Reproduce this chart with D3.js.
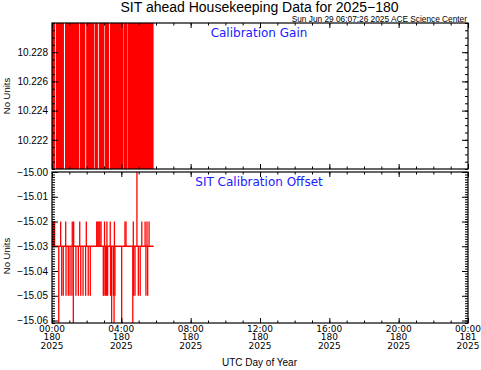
<!DOCTYPE html>
<html>
<head>
<meta charset="utf-8">
<script src="https://cdn.jsdelivr.net/npm/d3@7"></script>
<style>
  body { margin: 0; background: #fff; }
  svg { display: block; font-family: "Liberation Sans", "DejaVu Sans", sans-serif; }
</style>
</head>
<body>
<svg id="chart" width="481" height="370"></svg>
<script>
// ---- data (hours of day 180, 2025) ----
const gainStart = [0.00, 0.22, 0.75, 1.60, 1.97, 2.46, 2.70, 3.04, 3.34, 4.12, 4.35];
const gainEnd   = [0.17, 0.69, 1.56, 1.92, 2.43, 2.65, 3.01, 3.29, 4.10, 4.33, 5.86];
// gain readings flip between these two levels inside each run (both off scale)
const gainLow  = 10.2195;
const gainHigh = 10.2305;

const offsetBase = -15.03;
const offsetStart = 0.0, offsetEnd = 5.87;
const spikeHours = [0.00, 0.05, 0.10, 0.15, 0.39, 0.50, 0.56, 0.65, 0.79, 0.81, 0.94, 1.04,
  1.15, 1.17, 1.23, 1.25, 1.38, 1.52, 1.60, 1.66, 1.79, 1.94, 1.98, 2.09, 2.21,
  2.58, 2.64, 2.70, 2.76, 2.83, 2.96, 3.00, 3.03, 3.08, 3.14, 3.17, 3.21, 3.36, 3.38, 3.44,
  3.54, 3.58, 3.60, 3.63, 4.02, 4.21, 4.27, 4.66, 4.69, 4.71, 4.79, 4.90, 4.98, 5.09,
  5.18, 5.37, 5.42, 5.48, 5.52, 5.60];
const spikeValues = [-15.02, -15.02, -15.02, -15.02, -15.07, -15.02, -15.05, -15.05, -15.02, -15.05, -15.05, -15.05,
  -15.05, -15.02, -15.07, -15.02, -15.05, -15.05, -15.02, -15.05, -15.05, -15.05, -15.02, -15.05, -15.05,
  -15.02, -15.02, -15.02, -15.02, -15.02, -15.05, -15.05, -15.02, -15.05, -15.05, -15.02, -15.05, -15.02, -15.05, -15.07,
  -15.05, -15.07, -15.02, -15.05, -15.07, -15.02, -15.02, -15.07, -15.02, -15.05, -15.05, -15.00, -15.05, -15.05,
  -15.02, -15.02, -15.05, -15.02, -15.05, -15.02];

const gainTicks = [10.222, 10.224, 10.226, 10.228];
const offsetTicks = [-15.06, -15.05, -15.04, -15.03, -15.02, -15.01, -15.00];
const hourTicks = [0, 4, 8, 12, 16, 20, 24];
const hourLabels = ["00:00", "04:00", "08:00", "12:00", "16:00", "20:00", "00:00"];
const dayLabels = ["180", "180", "180", "180", "180", "180", "181"];
const yearLabels = ["2025", "2025", "2025", "2025", "2025", "2025", "2025"];

const svg = d3.select("#chart");
const left = 52, right = 468;
const panels = [
  { top: 23, bottom: 169, domain: [10.220, 10.230], ticks: gainTicks, minor: 0.0005, fmt: d3.format(".3f"),
    title: "Calibration Gain", titleY: 37, labelY: 96 },
  { top: 172, bottom: 323, domain: [-15.061, -15.000], ticks: offsetTicks, minor: 0.001, fmt: d3.format(".2f"),
    title: "SIT Calibration Offset", titleY: 186, labelY: 256 }
];

const x = d3.scaleLinear().domain([0, 24]).range([left, right]);
const minorHours = d3.range(0, 25);

panels.forEach((p, i) => {
  p.y = d3.scaleLinear().domain(p.domain).range([p.bottom, p.top]);
  const n = Math.round((p.domain[1] - p.domain[0]) / p.minor);
  const lo = Math.ceil(p.domain[0] / p.minor - 1e-6);
  p.minorTicks = d3.range(lo, lo + n + 1).map(k => +(k * p.minor).toFixed(5))
    .filter(v => v >= p.domain[0] - 1e-9 && v <= p.domain[1] + 1e-9);

  svg.append("defs").append("clipPath").attr("id", "clip" + i)
    .append("rect").attr("x", left).attr("y", p.top).attr("width", right - left).attr("height", p.bottom - p.top);
});

// gain runs
const g0 = svg.append("g").attr("clip-path", "url(#clip0)");
g0.selectAll("rect").data(gainStart).join("rect")
  .attr("x", (d) => x(d))
  .attr("width", (d, i) => x(gainEnd[i]) - x(d))
  .attr("y", panels[0].y(gainHigh))
  .attr("height", panels[0].y(gainLow) - panels[0].y(gainHigh))
  .attr("fill", "#ff0000");

// offset baseline + spikes
const g1 = svg.append("g").attr("clip-path", "url(#clip1)");
const y1 = panels[1].y;
g1.append("line")
  .attr("x1", x(offsetStart)).attr("x2", x(offsetEnd))
  .attr("y1", y1(offsetBase)).attr("y2", y1(offsetBase))
  .attr("stroke", "#ff0000").attr("stroke-width", 1.3);
g1.selectAll("line.spike").data(spikeHours).join("line")
  .attr("class", "spike")
  .attr("x1", d => x(d)).attr("x2", d => x(d))
  .attr("y1", y1(offsetBase)).attr("y2", (d, i) => y1(spikeValues[i]))
  .attr("stroke", "#ff0000").attr("stroke-width", 1.3);

// axes
panels.forEach((p, i) => {
  const ax = svg.append("g").attr("class", "axes");
  // frame
  ax.append("rect").attr("x", left).attr("y", p.top).attr("width", right - left).attr("height", p.bottom - p.top)
    .attr("fill", "none").attr("stroke", "#000").attr("stroke-width", 1.2);

  const addAxis = (gen, tx, ty) => {
    const a = ax.append("g").attr("transform", `translate(${tx},${ty})`).call(gen);
    a.select(".domain").remove();
    a.selectAll("line").attr("stroke", "#000");
    return a;
  };
  // x ticks top and bottom, pointing inward
  addAxis(d3.axisBottom(x).tickValues(minorHours).tickSize(2.5).tickFormat(""), 0, p.top);
  addAxis(d3.axisBottom(x).tickValues(hourTicks).tickSize(5).tickFormat(""), 0, p.top);
  addAxis(d3.axisTop(x).tickValues(minorHours).tickSize(2.5).tickFormat(""), 0, p.bottom);
  addAxis(d3.axisTop(x).tickValues(hourTicks).tickSize(5).tickFormat(""), 0, p.bottom);
  // y ticks left and right, pointing inward
  addAxis(d3.axisRight(p.y).tickValues(p.minorTicks).tickSize(3).tickFormat(""), left, 0);
  addAxis(d3.axisRight(p.y).tickValues(p.ticks).tickSize(6).tickFormat(""), left, 0);
  addAxis(d3.axisLeft(p.y).tickValues(p.minorTicks).tickSize(3).tickFormat(""), right, 0);
  addAxis(d3.axisLeft(p.y).tickValues(p.ticks).tickSize(6).tickFormat(""), right, 0);
  // y labels
  const lab = addAxis(d3.axisLeft(p.y).tickValues(p.ticks).tickSize(0).tickPadding(4).tickFormat(p.fmt), left, 0);
  lab.selectAll("text").attr("font-size", 10).attr("font-family", "Liberation Sans, sans-serif").attr("fill", "#000");

  svg.append("text").attr("x", 259).attr("y", p.titleY).attr("text-anchor", "middle")
    .attr("font-family", "DejaVu Sans, sans-serif")
    .attr("font-size", 12).attr("fill", "#2020ff").text(p.title);
  svg.append("text").attr("transform", `translate(9.5,${p.labelY}) rotate(-90)`).attr("text-anchor", "middle")
    .attr("font-size", 9.5).text("No Units");
});

// bottom x labels, three lines each
const xl = svg.append("g");
hourTicks.forEach((h, i) => {
  const t = xl.append("text").attr("text-anchor", "middle").attr("font-size", 9)
    .attr("font-family", "DejaVu Sans, sans-serif");
  t.append("tspan").attr("x", x(h)).attr("y", 331.5).text(hourLabels[i]);
  t.append("tspan").attr("x", x(h)).attr("y", 340.3).text(dayLabels[i]);
  t.append("tspan").attr("x", x(h)).attr("y", 349).text(yearLabels[i]);
});

svg.append("text").attr("x", 259.5).attr("y", 366).attr("text-anchor", "middle")
  .attr("font-size", 10).text("UTC Day of Year");
svg.append("text").attr("x", 259.5).attr("y", 11.5).attr("text-anchor", "middle")
  .attr("font-size", 14).text("SIT ahead Housekeeping Data for 2025\u2212180");
svg.append("text").attr("x", 467).attr("y", 22).attr("text-anchor", "end")
  .attr("font-size", 8.3).text("Sun Jun 29 06:07:26 2025 ACE Science Center");
</script>
</body>
</html>
